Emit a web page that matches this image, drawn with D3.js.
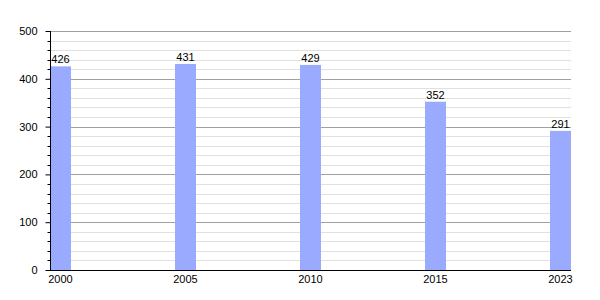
<!DOCTYPE html>
<html>
<head>
<meta charset="utf-8">
<script src="https://cdn.jsdelivr.net/npm/d3@7"></script>
<style>
  body { margin: 0; background: #fff; }
  text { font-family: "Liberation Sans", Arial, sans-serif; font-size: 11px; fill: #000; }
</style>
</head>
<body>
<div id="chart"></div>
<script>
var years = ["2000", "2005", "2010", "2015", "2023"];
var population = [426, 431, 429, 352, 291];
var majorTicks = [0, 100, 200, 300, 400, 500];

var width = 600;
var height = 300;
var plotLeft = 50, plotRight = 571, plotTop = 31, plotBottom = 270;

var svg = d3.select("#chart")
  .append("svg")
  .attr("width", width)
  .attr("height", height);

var y = d3.scaleLinear().domain([0, 500]).range([plotBottom, plotTop]);

// each slot is 125px wide, bar sits at the left of its slot
var x = d3.scaleBand()
  .domain(years)
  .range([plotLeft, plotLeft + 125 * years.length])
  .paddingInner(0)
  .paddingOuter(0);
var barWidth = 21;

function py(d) { return Math.round(y(d)) + 0.5; }

// minor grid every 20
var minor = d3.range(0, 501, 20).filter(function (d) { return d % 100 !== 0; });
svg.append("g")
  .selectAll("line")
  .data(minor)
  .enter()
  .append("line")
  .attr("x1", plotLeft)
  .attr("x2", plotRight)
  .attr("y1", py)
  .attr("y2", py)
  .attr("stroke", "#e0e0e0");

// major grid
svg.append("g")
  .selectAll("line")
  .data(majorTicks.slice(1))
  .enter()
  .append("line")
  .attr("x1", plotLeft)
  .attr("x2", plotRight)
  .attr("y1", py)
  .attr("y2", py)
  .attr("stroke", "#a0a0a0");

// bars
svg.append("g")
  .selectAll("rect")
  .data(population)
  .enter()
  .append("rect")
  .attr("x", function (d, i) { return x(years[i]); })
  .attr("width", barWidth)
  .attr("y", function (d) { return y(d); })
  .attr("height", function (d) { return y(0) - y(d); })
  .attr("fill", "#99aaff");

// value labels
svg.append("g")
  .selectAll("text")
  .data(population)
  .enter()
  .append("text")
  .attr("x", function (d, i) { return x(years[i]) + barWidth / 2; })
  .attr("y", function (d) { return y(d) - 3; })
  .attr("text-anchor", "middle")
  .text(function (d) { return d; });

// y axis
var yAxis = d3.axisLeft(y)
  .tickValues(majorTicks)
  .tickSize(5)
  .tickPadding(8);
var yg = svg.append("g")
  .attr("transform", "translate(" + (plotLeft + 0.5) + ",0)")
  .call(yAxis);
yg.select(".domain").remove();
yg.selectAll("text").style("font-size", "11px").style("font-family", "Liberation Sans, Arial, sans-serif");
yg.append("line")
  .attr("y1", plotTop)
  .attr("y2", plotBottom)
  .attr("stroke", "#000");

// minor ticks on y axis
yg.selectAll(".minor")
  .data(minor)
  .enter()
  .append("line")
  .attr("class", "minor")
  .attr("x1", -3)
  .attr("x2", 0)
  .attr("y1", py)
  .attr("y2", py)
  .attr("stroke", "#000");

// x axis line
svg.append("line")
  .attr("x1", plotLeft)
  .attr("x2", plotRight)
  .attr("y1", plotBottom + 0.5)
  .attr("y2", plotBottom + 0.5)
  .attr("stroke", "#000");

// x labels
svg.append("g")
  .selectAll("text")
  .data(years)
  .enter()
  .append("text")
  .attr("x", function (d) { return x(d) + barWidth / 2; })
  .attr("y", plotBottom + 13)
  .attr("text-anchor", "middle")
  .text(function (d) { return d; });
</script>
</body>
</html>
